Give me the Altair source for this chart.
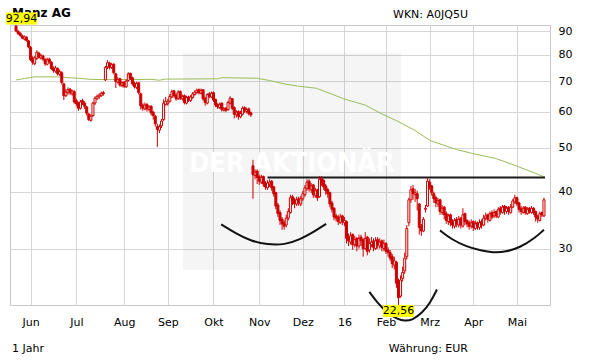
import altair as alt
import pandas as pd

# ---------------- data ----------------
OPEN = [
 92.4, 90.0, 89.2, 88.0, 86.6, 87.4, 85.8, 83.0, 78.6, 76.4,
 78.4, 80.6, 78.6, 79.4, 78.0, 76.2, 78.2, 77.0, 74.8, 73.6,
 74.6, 72.4, 73.0, 69.0, 65.0, 66.0, 67.2, 65.6, 66.4, 63.4,
 62.6, 61.0, 63.4, 62.6, 61.4, 59.2, 57.4, 58.8, 62.6, 64.0,
 64.6, 65.0, 66.0, 70.4, 75.2, 76.6, 75.0, 76.2, 72.6, 69.6,
 70.8, 68.4, 69.6, 68.0, 70.2, 72.8, 71.2, 69.2, 67.8, 69.4,
 65.6, 62.0, 60.8, 62.2, 60.6, 61.6, 59.8, 58.6, 55.6, 54.6,
 55.8, 57.6, 62.2, 62.4, 63.2, 64.6, 66.6, 65.2, 64.0, 66.4,
 64.0, 65.0, 62.6, 64.6, 63.4, 64.4, 65.4, 66.0, 67.0, 65.8,
 67.0, 64.2, 62.6, 65.6, 64.6, 66.0, 63.8, 62.2, 61.2, 62.6,
 60.4, 61.0, 60.6, 62.6, 64.0, 61.2, 59.0, 60.0, 58.4, 59.2,
 61.2, 60.0, 60.8, 59.6, 45.6, 43.4, 44.4, 43.2, 42.0, 43.2,
 41.8, 40.8, 41.6, 42.2, 41.0, 39.8, 37.4, 36.0, 34.8, 34.2,
 33.8, 35.0, 36.0, 39.0, 38.4, 37.6, 38.6, 37.6, 38.6, 39.4,
 40.6, 42.2, 40.4, 41.4, 39.2, 40.4, 39.0, 42.8, 42.4, 41.2,
 40.4, 39.8, 37.8, 36.8, 35.4, 35.2, 34.2, 35.4, 34.2, 34.4,
 31.8, 31.0, 32.2, 30.6, 31.6, 30.4, 31.8, 31.4, 30.0, 31.8,
 29.8, 30.6, 31.2, 30.0, 31.4, 30.4, 31.2, 30.0, 30.8, 29.8,
 29.4, 28.8, 27.6, 28.0, 25.4, 23.6, 25.8, 26.8, 28.8, 34.2,
 38.4, 40.6, 39.4, 39.6, 37.6, 33.6, 32.8, 36.6, 37.2, 42.0,
 41.2, 39.6, 38.8, 37.6, 38.4, 36.0, 37.0, 35.8, 34.4, 35.6,
 34.4, 33.6, 34.8, 33.8, 35.0, 33.6, 35.8, 34.6, 34.2, 33.6,
 34.4, 33.2, 34.2, 33.4, 34.4, 33.8, 35.0, 35.6, 34.6, 36.0,
 35.4, 36.2, 35.2, 36.8, 36.0, 37.2, 36.2, 37.0, 36.0, 37.0,
 38.0, 38.8, 37.8, 36.8, 36.0, 37.0, 35.8, 36.8, 36.0, 36.8,
 36.2, 35.4, 34.6, 36.0, 35.4,
]
HIGH = [
 92.94, 90.6, 89.6, 88.6, 88.2, 87.8, 86.2, 83.6, 79.4, 79.4,
 81.8, 81.2, 80.4, 80.0, 78.6, 78.8, 78.8, 77.4, 75.4, 75.6,
 75.0, 74.2, 73.6, 69.4, 67.2, 67.8, 67.6, 67.0, 66.8, 64.0,
 63.0, 63.6, 64.0, 63.2, 61.8, 59.6, 59.2, 63.0, 64.8, 65.4,
 65.8, 66.4, 66.6, 75.6, 77.8, 77.2, 76.8, 76.6, 73.0, 71.4,
 71.2, 70.0, 70.0, 70.6, 73.2, 73.0, 71.6, 69.8, 69.8, 69.6,
 66.0, 62.6, 62.8, 62.6, 62.0, 62.0, 60.2, 59.0, 56.4, 56.2,
 57.8, 63.8, 64.6, 64.0, 65.6, 67.0, 67.0, 65.8, 66.8, 66.8,
 65.4, 65.4, 65.0, 65.0, 65.2, 66.2, 66.8, 67.4, 67.4, 67.4,
 67.2, 64.6, 65.8, 66.2, 66.4, 66.4, 64.0, 62.6, 62.8, 62.8,
 61.4, 61.4, 63.4, 64.8, 64.2, 61.6, 60.4, 60.4, 60.2, 61.6,
 61.6, 61.2, 61.2, 60.0, 47.0, 44.8, 44.8, 43.6, 43.6, 43.4,
 42.2, 42.4, 42.6, 42.4, 41.2, 40.0, 37.8, 36.4, 35.2, 34.6,
 35.6, 36.8, 39.4, 39.4, 38.8, 39.0, 39.0, 39.2, 40.2, 41.4,
 42.6, 42.6, 41.8, 41.6, 40.8, 40.6, 43.3, 43.3, 42.6, 41.6,
 40.8, 40.0, 38.2, 37.0, 35.8, 35.6, 35.8, 35.6, 35.2, 34.6,
 32.4, 32.6, 32.4, 32.0, 31.8, 32.2, 32.2, 31.6, 32.6, 32.0,
 31.6, 31.8, 31.6, 31.8, 31.8, 31.6, 31.4, 31.4, 31.0, 30.2,
 29.8, 29.2, 28.8, 28.2, 25.8, 26.2, 27.4, 29.4, 33.8, 38.8,
 41.2, 41.4, 40.6, 40.2, 37.8, 34.0, 35.2, 37.4, 43.0, 42.6,
 41.4, 40.0, 39.2, 38.8, 38.6, 37.4, 37.2, 36.2, 35.8, 35.8,
 34.8, 35.0, 35.2, 35.4, 35.2, 36.8, 36.0, 34.8, 34.6, 34.8,
 34.6, 34.6, 34.4, 34.8, 34.8, 35.6, 36.0, 35.8, 36.2, 36.4,
 36.6, 36.4, 37.0, 37.2, 37.4, 37.4, 37.2, 37.2, 37.6, 38.6,
 39.4, 39.0, 38.0, 37.2, 37.2, 37.2, 37.0, 37.0, 37.2, 37.0,
 36.4, 35.6, 36.2, 36.2, 38.8,
]
LOW = [
 89.6, 88.4, 87.6, 86.4, 86.0, 85.4, 82.6, 77.4, 76.0, 75.8,
 78.0, 78.4, 78.0, 77.4, 75.6, 75.8, 76.4, 74.0, 73.0, 73.0,
 72.0, 71.8, 68.8, 63.6, 64.6, 65.4, 65.2, 65.0, 62.4, 61.6,
 60.2, 60.6, 62.0, 60.8, 58.8, 57.2, 57.0, 58.4, 62.0, 63.6,
 64.0, 64.6, 65.0, 70.0, 74.4, 74.2, 74.4, 72.4, 67.6, 69.0,
 68.0, 67.8, 67.6, 67.6, 69.8, 70.4, 68.4, 67.4, 67.2, 65.4,
 60.6, 60.2, 60.4, 60.0, 60.0, 58.8, 57.6, 55.6, 50.2, 53.8,
 55.2, 57.2, 61.8, 61.8, 62.8, 64.2, 64.4, 63.4, 63.6, 63.6,
 63.4, 62.2, 62.2, 63.0, 63.0, 64.0, 65.0, 65.6, 65.4, 65.4,
 63.4, 61.8, 62.2, 64.2, 64.2, 63.0, 61.4, 60.8, 60.8, 60.0,
 60.0, 59.8, 60.2, 62.2, 60.4, 58.0, 58.2, 57.6, 58.0, 58.8,
 59.6, 59.4, 58.8, 58.4, 38.6, 42.6, 41.6, 41.4, 41.6, 41.0,
 40.4, 40.4, 41.0, 40.2, 39.0, 36.6, 35.2, 33.8, 33.0, 33.0,
 33.4, 34.6, 35.8, 37.4, 36.8, 37.2, 37.2, 37.2, 38.2, 39.0,
 40.2, 40.0, 39.8, 38.8, 38.8, 38.2, 38.8, 41.2, 40.4, 39.4,
 38.8, 37.0, 36.0, 34.6, 34.4, 33.8, 34.0, 33.8, 33.6, 30.8,
 30.4, 30.6, 29.8, 30.2, 29.6, 30.0, 30.4, 28.8, 29.8, 29.0,
 29.4, 30.2, 29.6, 29.8, 30.0, 30.0, 29.6, 29.6, 29.2, 28.8,
 28.2, 27.2, 27.0, 24.6, 22.56, 23.4, 25.4, 26.4, 28.4, 33.6,
 37.8, 38.4, 38.0, 36.4, 32.2, 32.0, 32.6, 36.0, 37.0, 40.4,
 39.2, 37.8, 37.0, 37.0, 35.6, 35.6, 34.8, 34.0, 33.8, 33.6,
 33.2, 33.2, 33.4, 33.4, 33.2, 33.4, 33.8, 33.4, 33.0, 33.2,
 32.8, 33.0, 33.0, 33.0, 33.2, 33.6, 34.6, 34.2, 34.4, 34.8,
 35.0, 35.0, 35.0, 35.6, 35.8, 35.6, 35.8, 35.6, 35.8, 36.8,
 37.6, 37.2, 36.0, 35.6, 35.8, 35.6, 35.6, 35.8, 35.8, 35.6,
 34.4, 34.2, 34.4, 35.2, 35.2,
]
CLOSE = [
 90.2, 89.0, 88.2, 87.0, 87.6, 86.0, 83.2, 78.0, 77.0, 78.8,
 81.0, 79.0, 79.6, 78.2, 76.4, 78.0, 77.2, 74.6, 73.8, 74.8,
 72.6, 73.4, 69.5, 65.0, 66.2, 67.0, 66.0, 66.6, 63.0, 62.4,
 61.0, 63.0, 62.8, 61.6, 59.5, 57.6, 58.6, 62.6, 64.2, 64.8,
 65.2, 65.8, 65.6, 75.0, 76.8, 75.0, 76.0, 73.0, 69.8, 70.6,
 68.6, 69.4, 68.2, 70.0, 72.6, 71.0, 69.0, 68.0, 69.2, 66.0,
 61.8, 61.0, 62.0, 60.8, 61.4, 59.6, 58.8, 56.4, 54.8, 55.6,
 57.2, 62.6, 63.2, 63.0, 64.8, 66.4, 65.0, 64.0, 66.2, 64.2,
 64.8, 62.8, 64.4, 63.6, 64.6, 65.6, 66.2, 66.8, 66.0, 66.8,
 64.0, 62.8, 65.4, 64.8, 65.8, 63.6, 62.0, 61.4, 62.2, 60.6,
 60.8, 60.4, 62.8, 64.2, 61.0, 59.2, 59.8, 58.6, 59.4, 61.0,
 60.2, 60.6, 59.4, 59.0, 43.6, 44.2, 43.0, 42.2, 43.0, 41.6,
 41.0, 41.8, 42.0, 40.8, 39.6, 37.2, 35.8, 34.6, 34.0, 33.6,
 35.0, 36.2, 38.8, 38.2, 37.6, 38.4, 37.8, 38.6, 39.6, 40.8,
 42.0, 40.6, 41.2, 39.4, 40.2, 38.8, 42.6, 42.0, 41.0, 40.2,
 39.6, 37.6, 36.6, 35.2, 35.0, 34.4, 35.2, 34.4, 34.6, 31.6,
 31.2, 32.0, 30.6, 31.4, 30.4, 31.6, 31.2, 30.0, 31.6, 29.6,
 30.8, 31.0, 30.2, 31.2, 30.6, 31.0, 30.2, 30.8, 29.6, 29.4,
 28.6, 27.8, 28.2, 25.2, 23.4, 25.6, 26.6, 28.6, 33.2, 38.4,
 40.4, 39.6, 39.8, 38.6, 33.4, 32.8, 34.8, 36.8, 42.2, 41.0,
 39.8, 38.6, 37.8, 38.2, 36.2, 36.8, 35.6, 34.6, 35.4, 34.2,
 33.8, 34.6, 34.0, 34.8, 33.8, 35.6, 34.4, 34.0, 33.6, 34.2,
 33.4, 34.0, 33.6, 34.2, 33.8, 35.0, 35.4, 34.8, 35.8, 35.2,
 36.0, 35.4, 36.6, 36.2, 37.0, 36.4, 36.8, 36.2, 37.0, 38.2,
 38.8, 37.6, 36.6, 36.2, 36.8, 36.0, 36.6, 36.2, 36.8, 36.0,
 35.2, 34.8, 35.8, 35.6, 38.4,
]

# trading-day index of the first session of each month, and its label
MONTH_TICKS = [7, 29, 52, 73, 95, 117, 138, 158, 178, 199, 220, 241]
MONTH_LABELS = ["Jun", "Jul", "Aug", "Sep", "Okt", "Nov", "Dez", "16", "Feb", "Mrz", "Apr", "Mai"]
PRICE_TICKS = [30, 40, 50, 60, 70, 80, 90]

# 200-day moving average (green line), read at points
MA_IDX = [0, 4, 9, 20, 23, 25, 30, 36, 46, 65, 69, 72, 97, 99, 116, 122, 129, 136,
          144.5, 152, 158, 168, 175.6, 183.7, 191.7, 199.3, 212, 220, 231, 240, 250, 254.5]
MA_VAL = [70.4, 70.9, 71.5, 71.5, 71.4, 71.2, 71.0, 70.6, 70.5, 70.6, 70.3, 70.7, 70.8, 71.2,
          71.0, 70.2, 69.0, 68.2, 67.5, 65.5, 63.9, 62.0, 59.4, 57.1, 54.6, 51.8, 49.5, 48.5,
          47.3, 45.7, 43.9, 43.0]

# resistance line
RES_LEVEL = 43.0
RES_START = 121
RES_END = 254.5

# hand-drawn arcs (inverse head and shoulders)
LEFT_ARC_I = [98.7, 105.7, 112.8, 120.9, 129.4, 136.5, 143.5, 149.2]
LEFT_ARC_P = [33.9, 32.4, 31.2, 30.6, 30.6, 31.4, 32.7, 34.0]
MID_ARC_I = [170.0, 174.2, 178.9, 183.7, 187.0, 190.7, 195.5, 199.3, 202.5]
MID_ARC_P = [24.1, 22.7, 21.6, 21.0, 20.8, 20.9, 21.7, 22.8, 24.4]
RIGHT_ARC_I = [204.0, 209.7, 216.7, 223.8, 229.5, 235.6, 242.7, 249.8, 254.0]
RIGHT_ARC_P = [32.9, 31.4, 30.3, 29.7, 29.4, 29.5, 30.2, 31.7, 33.0]

# extreme value labels
HI_LABEL = ("92,94", 0, 92.94)
LO_LABEL = ("22,56", 184, 22.56)

RED = "#cc0000"
FONT = "DejaVu Sans"

# ---------------- tables ----------------
n = len(CLOSE)
df = pd.DataFrame({"i": list(range(n)), "open": OPEN, "high": HIGH, "low": LOW, "close": CLOSE})
df["dir"] = ["up" if c > o else "down" for o, c in zip(OPEN, CLOSE)]

ma_df = pd.DataFrame({"i": MA_IDX, "p": MA_VAL})
res_df = pd.DataFrame({"i": [RES_START], "i2": [RES_END], "p": [RES_LEVEL]})

arc_rows = []
for name, xs, ps in [("l", LEFT_ARC_I, LEFT_ARC_P), ("m", MID_ARC_I, MID_ARC_P), ("r", RIGHT_ARC_I, RIGHT_ARC_P)]:
    for k, (a, b) in enumerate(zip(xs, ps)):
        arc_rows.append({"arc": name, "k": k, "i": a, "p": b})
arc_df = pd.DataFrame(arc_rows)

label_expr = "".join(f"datum.value == {t} ? '{l}' : " for t, l in zip(MONTH_TICKS, MONTH_LABELS)) + "''"

xscale = alt.Scale(domain=[-0.5, n - 0.5], nice=False, zero=False)
yscale = alt.Scale(type="log", domain=[22.56, 92.94], nice=False)

x_axis = alt.Axis(values=MONTH_TICKS, labelExpr=label_expr, grid=True, ticks=False, domain=False,
                  labelPadding=11, title=None, labelOverlap=False, labelFlush=False)
y_axis = alt.Axis(orient="right", values=PRICE_TICKS, format="d", grid=True, ticks=False, domain=False,
                  labelPadding=8, title=None, labelOverlap=False, labelFlush=False)


def X(field):
    return alt.X(field, type="quantitative", scale=xscale, axis=x_axis)


def Y(field):
    return alt.Y(field, type="quantitative", scale=yscale, axis=y_axis)


one = pd.DataFrame({"t": [""]})

# watermark box and text
wm_box = alt.Chart(one).mark_rect(fill="#000000", opacity=0.04).encode(
    x=alt.value(173), x2=alt.value(391), y=alt.value(28), y2=alt.value(245))
wm_text = alt.Chart(pd.DataFrame({"t": ["DER AKTIONÄR"]})).mark_text(
    font="DejaVu Sans Condensed, Liberation Sans Narrow, sans-serif", fontWeight="bold", fontSize=27,
    color="#ffffff", align="center", baseline="alphabetic").encode(
    x=alt.value(282), y=alt.value(147), text="t:N")

ma = alt.Chart(ma_df).mark_line(color="#9cbd5a", strokeWidth=1).encode(x=X("i"), y=Y("p"))

res = alt.Chart(res_df).mark_rule(color="#1a1a1a", strokeWidth=2).encode(
    x=X("i"), x2="i2", y=Y("p"))

arcs = alt.Chart(arc_df).mark_line(color="#111111", strokeWidth=2, interpolate="basis").encode(
    x=X("i"), y=Y("p"), detail="arc:N", order="k:Q")

wicks = alt.Chart(df).mark_rule(color=RED, strokeWidth=1).encode(x=X("i"), y=Y("low"), y2="high")

bodies = alt.Chart(df).mark_bar(size=2, stroke=RED, strokeWidth=1).encode(
    x=X("i"), y=Y("open"), y2="close",
    fill=alt.Fill("dir:N", scale=alt.Scale(domain=["up", "down"], range=["#ffffff", RED]), legend=None))

# header / footer texts
def txt(s, x, y, align="left", bold=False, size=11):
    return alt.Chart(pd.DataFrame({"t": [s]})).mark_text(
        font=FONT, fontSize=size, fontWeight="bold" if bold else "normal", color="#000000",
        align=align, baseline="alphabetic").encode(x=alt.value(x), y=alt.value(y), text="t:N")

title = txt("Manz AG", 2, -8, bold=True, size=12)
wkn = txt("WKN: A0JQ5U", 458, -7, align="right")
period = txt("1 Jahr", 2, 327)
curr = txt("Währung: EUR", 458, 327, align="right")

# yellow extreme labels
def ylabel(lbl, dx, dy):
    s, i, p = lbl
    d = pd.DataFrame({"i": [i], "p": [p], "t": [s]})
    box = alt.Chart(d).mark_point(
        shape="M-1,-0.39L1,-0.39L1,0.39L-1,0.39Z", size=961, filled=True, fill="#ffff00",
        strokeWidth=0, opacity=1, xOffset=dx, yOffset=dy).encode(x=X("i"), y=Y("p"))
    t = alt.Chart(d).mark_text(font=FONT, fontSize=11, color="#000000", align="center",
                               baseline="middle", dx=dx, dy=dy).encode(x=X("i"), y=Y("p"), text="t:N")
    return box + t

hi = ylabel(HI_LABEL, 5.4, -6.5)
lo = ylabel(LO_LABEL, 0, 6)

chart = alt.layer(
    wm_box, wm_text, ma, res, wicks, bodies, arcs, title, hi, lo, wkn, period, curr
).properties(
    width=540, height=280,
    padding={"left": 10, "top": 25, "right": 61, "bottom": 59},
    autosize=alt.AutoSizeParams(type="none"),
    background="#ffffff",
).configure_view(
    stroke="#c8c8c8", strokeWidth=1
).configure_axis(
    gridColor="#d6d6d6", gridWidth=1, labelFont=FONT, labelFontSize=11, labelColor="#000000"
)

chart.save("out.html", embed_options={"renderer": "svg", "actions": False})
